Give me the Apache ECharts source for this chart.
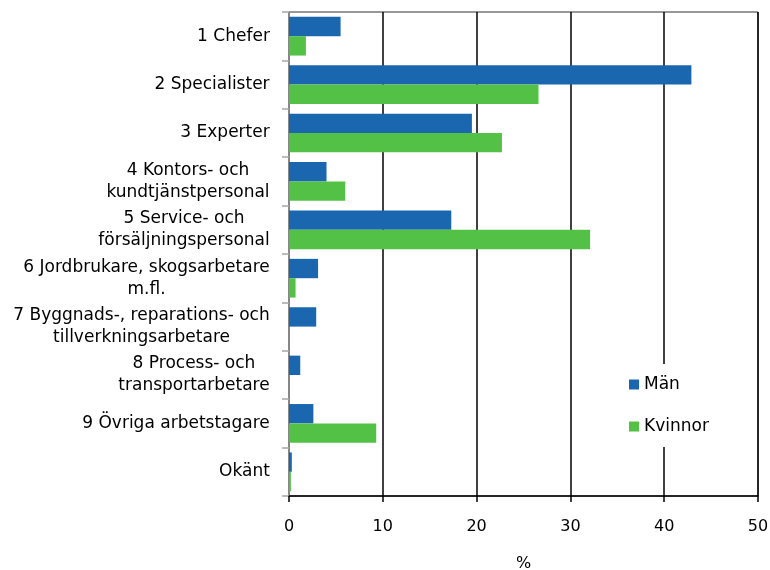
<!DOCTYPE html>
<html>
<head>
<meta charset="utf-8">
<script src="https://cdn.jsdelivr.net/npm/echarts@6/dist/echarts.min.js"></script>
<style>
  html, body { margin: 0; padding: 0; background: #fff; }
  #chart { width: 770px; height: 570px; }
</style>
</head>
<body>
<div id="chart"></div>
<script>
// yrkesgrupper, uppifrån och ned
var categories = [
  '1 Chefer',
  '2 Specialister',
  '3 Experter',
  '4 Kontors- och\nkundtjänstpersonal',
  '5 Service- och\nförsäljningspersonal',
  '6 Jordbrukare, skogsarbetare\nm.fl.',
  '7 Byggnads-, reparations- och\ntillverkningsarbetare',
  '8 Process- och\ntransportarbetare',
  '9 Övriga arbetstagare',
  'Okänt'
];
var man = [5.5, 42.9, 19.5, 4.0, 17.3, 3.1, 2.9, 1.2, 2.6, 0.3];
var kvinnor = [1.8, 26.6, 22.7, 6.0, 32.1, 0.7, 0, 0, 9.3, 0.2];
var xTicks = [0, 10, 20, 30, 40, 50];

var FONT = '"DejaVu Sans", sans-serif';
var LABEL_SIZE = 17;

// flerradiga etiketter centreras radvis
var ctx = document.createElement('canvas').getContext('2d');
ctx.font = LABEL_SIZE + 'px ' + FONT;
var rich = {};
categories.forEach(function (c, i) {
  var w = 0;
  c.split('\n').forEach(function (l) { w = Math.max(w, ctx.measureText(l).width); });
  rich['c' + i] = { width: Math.ceil(w), align: 'center', fontSize: LABEL_SIZE, fontFamily: FONT, color: '#000', lineHeight: 22 };
});

var chart = echarts.init(document.getElementById('chart'));
var option = {
  animation: false,
  textStyle: { fontFamily: FONT },
  grid: {
    left: 289, right: 12, top: 12, bottom: 74,
    outerBoundsMode: 'none',
    show: true, borderColor: '#333', borderWidth: 1
  },
  legend: {
    orient: 'vertical',
    left: 619, top: 364,
    padding: [12, 12, 12, 10],
    backgroundColor: '#fff',
    itemWidth: 10, itemHeight: 10,
    itemGap: 25,
    icon: 'rect',
    textStyle: { fontSize: 17, color: '#000', fontFamily: FONT },
    data: ['Män', 'Kvinnor']
  },
  xAxis: {
    type: 'value',
    min: xTicks[0], max: xTicks[xTicks.length - 1], interval: 10,
    name: '%',
    nameLocation: 'middle',
    nameGap: 60,
    nameTextStyle: { fontSize: 16, color: '#000' },
    axisLine: { show: true, lineStyle: { color: '#000', width: 1.5 } },
    axisTick: { show: true, length: 6, lineStyle: { color: '#000', width: 1.5 } },
    axisLabel: { fontSize: 16, color: '#000', margin: 23 },
    splitLine: { show: true, lineStyle: { color: '#000', width: 1.5 } }
  },
  yAxis: {
    type: 'category',
    inverse: true,
    data: categories,
    axisLine: { lineStyle: { color: '#a8a8a8', width: 1.5 } },
    axisTick: { show: true, length: 7, lineStyle: { color: '#a8a8a8', width: 1.5 } },
    axisLabel: {
      fontSize: LABEL_SIZE, color: '#000', margin: 19, lineHeight: 22,
      formatter: function (value, idx) {
        return value.split('\n').map(function (l) { return '{c' + idx + '|' + l + '}'; }).join('\n');
      },
      rich: rich
    }
  },
  series: [
    {
      name: 'Män', type: 'bar', data: man,
      barGap: '0%', barCategoryGap: '20%',
      itemStyle: { color: '#1a67b0' }
    },
    {
      name: 'Kvinnor', type: 'bar', data: kvinnor,
      barGap: '0%', barCategoryGap: '20%',
      itemStyle: { color: '#52c145' }
    }
  ]
};
chart.setOption(option);
</script>
</body>
</html>
